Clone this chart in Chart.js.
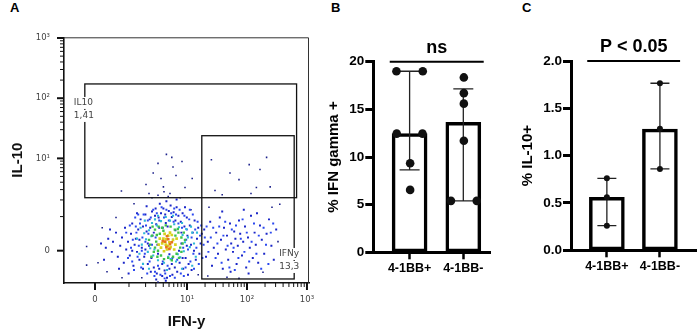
<!DOCTYPE html>
<html lang="en">
<head>
    <meta charset="UTF-8">
    <title>IFN-y / IL-10</title>
    <script src="https://cdn.jsdelivr.net/npm/chart.js"></script>
    <style>
        body { margin: 0; width: 700px; height: 336px; background: #fff; position: relative; overflow: hidden;
               font-family: 'Liberation Sans', Arial, sans-serif; }
        canvas { position: absolute; top: 0; }
        .panel { position: absolute; top: 0; font-weight: bold; font-size: 13px; line-height: 15px; }
    </style>
</head>
<body>
    <div class="panel" style="left:10px">A</div>
    <div class="panel" style="left:331px">B</div>
    <div class="panel" style="left:522px">C</div>

    <canvas id="flowChart" width="320" height="336" style="left:0"></canvas>
    <canvas id="ifnChart" width="195" height="336" style="left:300px"></canvas>
    <canvas id="il10Chart" width="205" height="336" style="left:495px"></canvas>

    <script>
        // ---- panel A : flow plot, coordinates in display units (1 unit = one decade) ----
        const majorFlowValues = [0, 10, 100, 1000];
        const majorFlowLabels = ['0', '10\u00b9', '10\u00b2', '10\u00b3'];

        const dotsOrange = [[1.17,0.15],[1.22,0.19],[1.19,0.06],[1.25,0.11],[1.13,0.16],[1.28,0.14],[1.20,0.24],
            [1.24,0.03]];
        const dotsYellow = [[1.10,0.05],[1.14,0.20],[1.18,0.10],[1.22,0.25],[1.26,0.06],[1.30,0.18],[1.16,0.28],
            [1.24,0.14],[1.12,0.12],[1.20,0.02],[1.28,0.26],[1.34,0.10],[1.08,0.20],[1.19,0.19],[1.32,0.02],
            [1.06,0.10],[1.15,-0.01],[1.25,0.30],[1.36,0.20],[1.21,0.08]];
        const dotsGreen = [[0.92,0.10],[0.95,0.25],[0.98,-0.02],[1.00,0.35],[1.02,0.15],[1.04,-0.10],[1.06,0.40],
            [1.08,0.28],[1.10,-0.08],[1.12,0.38],[1.15,-0.14],[1.18,0.42],[1.22,-0.12],[1.26,0.40],[1.30,-0.10],
            [1.33,0.35],[1.36,-0.05],[1.39,0.30],[1.42,0.05],[1.44,0.22],[1.46,0.12],[1.40,-0.12],[0.96,0.40],
            [1.48,0.30],[0.94,-0.10],[1.03,0.26],[1.38,0.36],[1.00,0.05],[1.44,-0.02],[1.28,-0.16],[1.14,0.33],
            [1.34,0.25],[1.05,0.00],[0.90,0.18],[1.50,0.18]];
        const dotsCyan = [[0.85,0.19],[0.90,0.34],[0.92,0.04],[0.95,0.46],[0.97,-0.08],[1.00,0.52],[1.05,-0.16],
            [1.10,0.49],[1.18,0.56],[1.25,0.50],[1.32,0.44],[1.40,0.39],[1.46,0.26],[1.50,0.14],[1.48,-0.01],
            [1.42,-0.11],[1.35,-0.18],[1.26,-0.14],[1.15,-0.20],[0.88,-0.02],[1.55,0.22],[0.82,0.29],[1.58,0.06],
            [1.45,0.46],[0.94,0.24],[1.03,0.42],[1.38,-0.06],[0.99,0.02],[1.52,0.36],[1.22,-0.10],[0.78,0.10],
            [1.62,0.30],[0.70,0.20],[0.74,-0.05],[0.76,0.38],[0.80,-0.22],[0.83,0.50],[1.60,0.40],[1.65,0.12],
            [1.68,-0.10],[1.62,-0.25],[1.05,0.58],[1.30,0.58],[0.90,-0.30],[1.20,-0.32],[1.45,-0.30],[1.70,0.30]];
        const dotsBlue = [[0.52,0.30],[0.55,-0.12],[0.58,0.42],[0.60,0.05],[0.63,0.18],[0.65,-0.32],[0.67,0.55],
            [0.69,0.30],[0.71,-0.10],[0.73,0.08],[0.75,0.45],[0.77,-0.28],[0.79,0.22],[0.81,0.60],[0.83,-0.05],
            [0.85,0.42],[0.87,-0.38],[0.89,0.28],[0.91,-0.18],[0.93,0.55],[0.95,0.10],[0.97,0.68],[0.99,-0.42],
            [1.01,0.22],[1.03,0.62],[1.05,-0.25],[1.07,0.50],[1.09,-0.40],[1.11,0.72],[1.13,-0.18],[1.15,0.55],
            [1.17,-0.38],[1.19,0.68],[1.21,-0.25],[1.23,0.50],[1.25,-0.42],[1.27,0.62],[1.29,-0.12],[1.31,0.48],
            [1.33,-0.45],[1.35,0.60],[1.37,-0.15],[1.39,0.45],[1.41,0.68],[1.43,-0.38],[1.45,0.38],[1.47,0.05],
            [1.49,0.58],[1.51,-0.28],[1.53,0.35],[1.55,0.02],[1.57,0.52],[1.59,-0.18],[1.61,0.22],[1.63,0.60],
            [1.65,-0.30],[1.67,0.35],[1.69,0.05],[1.71,0.48],[1.73,-0.22],[1.75,0.25],[1.77,0.42],[1.79,-0.12],
            [1.81,0.10],[1.83,0.22],[1.86,0.40],[1.89,-0.02],[0.62,-0.18],[0.68,0.40],[0.72,0.60],[0.88,0.50],
            [1.00,-0.35],[1.16,-0.46],[1.32,0.70],[1.48,-0.42],[1.58,0.68],[0.78,0.00],[0.84,0.15],[1.52,0.18],
            [1.64,-0.05],
            // right lobe
            [1.93,0.22],[1.97,0.38],[2.01,-0.12],[2.04,0.12],[2.07,0.40],[2.11,-0.20],[2.14,0.25],[2.17,0.48],
            [2.21,0.08],[2.24,-0.28],[2.28,0.35],[2.31,0.05],[2.35,0.42],[2.39,-0.12],[2.43,0.20],[2.46,0.52],
            [2.49,-0.02],[2.53,0.30],[2.57,-0.18],[2.61,0.15],[2.65,0.45],[2.69,-0.05],[2.73,0.25],[2.77,-0.30],
            [2.81,0.38],[2.85,0.10],[2.89,-0.22],[2.93,0.30],[2.97,0.45],[2.33,-0.32]];
        const dotsDeepBlue = [[0.10,0.12],[0.18,0.05],[0.22,0.20],[0.28,-0.02],[0.30,0.15],[0.35,0.30],[0.38,-0.10],
            [0.42,0.08],[0.45,0.22],[0.48,-0.20],[0.50,0.38],[0.52,0.02],[0.55,0.15],[0.58,-0.08],[0.60,0.28],
            [0.62,0.45],[0.64,-0.25],[0.66,0.10],[0.68,0.20],[0.70,-0.02],[0.72,0.35],[0.74,-0.15],[0.76,0.52],
            [0.78,0.05],[0.80,-0.30],[0.80,0.40],[0.82,-0.10],[0.84,0.60],[0.86,0.32],[0.88,-0.22],[0.90,0.08],
            [0.91,0.52],[0.93,-0.35],[0.95,0.65],[0.96,0.25],[0.98,-0.28],[1.00,0.58],[1.01,0.70],[1.03,-0.38],
            [1.04,0.10],[1.06,0.55],[1.07,-0.30],[1.08,0.78],[1.10,0.62],[1.12,-0.42],[1.13,0.38],[1.14,0.70],
            [1.16,-0.33],[1.17,0.60],[1.19,0.82],[1.20,-0.45],[1.21,0.40],[1.23,0.66],[1.24,-0.30],[1.26,0.75],
            [1.28,0.56],[1.29,-0.40],[1.30,0.18],[1.31,0.64],[1.33,-0.28],[1.34,0.50],[1.36,0.72],[1.37,-0.35],
            [1.39,0.58],[1.41,-0.20],[1.43,0.48],[1.44,0.12],[1.46,0.62],[1.47,-0.30],[1.49,0.40],[1.51,-0.12],
            [1.53,0.55],[1.54,0.25],[1.56,-0.22],[1.58,0.42],[1.60,0.10],[1.61,-0.32],[1.63,0.30],[1.65,0.00],
            [1.66,0.50],[1.68,-0.15],[1.70,0.20],[1.72,0.38],[1.74,-0.05],[1.76,0.12],[1.78,0.28],[0.40,-0.30],
            [0.25,0.35],[0.56,-0.38],[0.70,0.62],[0.86,0.74],[1.02,-0.48],[1.18,-0.50],[1.36,0.85],[1.50,0.72],
            [0.15,-0.15],[0.62,0.00],[0.74,0.18],[0.92,0.38],[1.55,-0.40],[0.88,0.12],[0.94,-0.12],[1.02,0.44],
            [1.07,0.38],[1.12,-0.22],[1.28,-0.22],[1.34,0.34],[1.44,0.30],[1.40,0.00],[0.98,0.30],[1.05,-0.05],
            [0.84,0.02],[1.46,-0.12],[1.53,0.08],[1.18,0.46],[1.24,-0.06],
            // right lobe
            [1.82,0.35],[1.85,-0.10],[1.88,0.15],[1.92,0.48],[1.95,-0.25],[1.98,0.05],[2.02,0.30],[2.05,-0.05],
            [2.08,0.55],[2.10,0.18],[2.13,-0.30],[2.15,0.38],[2.18,0.02],[2.20,0.25],[2.22,-0.15],[2.25,0.45],
            [2.27,0.12],[2.30,-0.02],[2.32,0.32],[2.34,0.20],[2.36,-0.22],[2.38,0.08],[2.40,0.50],[2.42,0.28],
            [2.45,-0.08],[2.47,0.15],[2.50,0.40],[2.52,-0.28],[2.55,0.22],[2.58,0.05],[2.60,0.58],[2.63,-0.12],
            [2.66,0.30],[2.68,0.10],[2.72,-0.20],[2.75,0.42],[2.78,0.18],[2.82,-0.05],[2.86,0.28],[2.90,0.52],
            [2.94,0.08],[2.98,-0.15],[3.02,0.35],[2.12,0.65],[2.48,0.68],[2.70,0.62],[2.26,-0.35],[2.56,-0.38]];
        const dotsNavy = [[-0.14,0.07],[-0.14,-0.24],[0.05,-0.20],[0.12,0.38],[0.20,-0.35],[0.35,0.55],
            [0.45,-0.45],[0.65,0.78],[0.78,-0.45],[0.95,0.88],[1.05,-0.52],[1.25,0.95],[1.42,0.88],[1.60,0.68],
            [1.72,-0.40],[1.90,0.72],[1.88,-0.42],[2.95,0.72],[3.08,0.77],[3.05,0.15],
            [1.19,1.60],[0.97,1.29],[1.30,1.39],[0.44,0.99],[1.94,1.51],[2.25,1.29],[2.57,1.43],[2.86,1.55],
            [2.69,1.05],[2.92,1.06],[2.00,1.00],[1.50,1.05],[1.14,1.06],[1.10,1.20],[1.35,1.25],[1.45,1.48],
            [1.05,1.45],[2.40,1.18],[2.75,1.35],[1.62,1.20],[0.85,1.10],[1.28,1.55],[1.05,0.92],[1.15,0.98],
            [1.22,0.90],[2.12,0.93],[2.60,0.95],[0.90,0.95],[2.20,-0.44],[2.80,-0.36],[2.40,-0.46]];

        // gates: name, percentage, bounds in display units [x0, x1, y0, y1]
        const gateNames = ['IL10', 'IFNy'];
        const gatePercents = ['1,41', '13,3'];
        const gateBounds = [[-0.17, 3.36, 0.88, 2.77], [1.78, 3.32, -0.47, 1.91]];

        // ---- panel B / C ----
        const groups = ['4-1BB+', '4-1BB-'];
        const ifnMedian = [12.45, 13.65];
        const ifnPoints = [[19.0, 19.0, 12.45, 12.45, 9.35, 6.55], [18.35, 16.7, 15.6, 11.7, 5.4, 5.4]];
        const ifnJitter = [[-0.245, 0.245, -0.24, 0.24, 0.01, 0.01], [0.01, 0.01, 0.01, 0.01, -0.23, 0.25]];
        const ifnErrLow = [8.65, 5.4];
        const ifnErrHigh = [19.0, 17.15];
        const il10Median = [0.56, 1.28];
        const il10Points = [[0.76, 0.56, 0.26], [1.765, 1.285, 0.86]];
        const il10Jitter = [[0, 0, 0], [0, 0, 0]];
        const il10ErrLow = [0.26, 0.86];
        const il10ErrHigh = [0.76, 1.765];

        const boldFont = 'Liberation Sans, Arial, sans-serif';

        // biexponential-like position of a flow value, in decades
        function biex(v) { return Math.asinh(v / 0.586) / Math.LN10; }

        const flowTickValues = [0];
        [1, 10, 100].forEach(d => {
            [1, 2, 3, 4, 5, 6, 7, 8, 9].forEach(k => flowTickValues.push(k * d));
        });
        flowTickValues.push(1000);

        const flowPlugin = {
            id: 'flowExtras',
            afterDraw(chart) {
                const ctx = chart.ctx, a = chart.chartArea;
                const xs = chart.scales.x, ys = chart.scales.y;
                ctx.save();
                // top / right frame
                ctx.strokeStyle = '#333'; ctx.lineWidth = 1;
                ctx.beginPath();
                ctx.moveTo(a.left, a.top + 0.5); ctx.lineTo(a.right - 0.5, a.top + 0.5); ctx.lineTo(a.right - 0.5, a.bottom);
                ctx.stroke();
                // axis ticks, major longer
                ctx.strokeStyle = '#111';
                xs.ticks.forEach(t => {
                    const px = xs.getPixelForValue(t.value);
                    ctx.lineWidth = t.major ? 2 : 1;
                    ctx.beginPath(); ctx.moveTo(px, a.bottom); ctx.lineTo(px, a.bottom + (t.major ? 7 : 4)); ctx.stroke();
                });
                ys.ticks.forEach(t => {
                    const py = ys.getPixelForValue(t.value);
                    ctx.lineWidth = t.major ? 2 : 1;
                    ctx.beginPath(); ctx.moveTo(a.left, py); ctx.lineTo(a.left - (t.major ? 7 : 4), py); ctx.stroke();
                });
                // gates
                ctx.strokeStyle = '#111'; ctx.lineWidth = 1.3;
                gateBounds.forEach(g => {
                    const x0 = xs.getPixelForValue(g[0]), x1 = xs.getPixelForValue(g[1]);
                    const y0 = ys.getPixelForValue(g[2]), y1 = ys.getPixelForValue(g[3]);
                    ctx.strokeRect(x0, y1, x1 - x0, y0 - y1);
                });
                ctx.font = '9px "DejaVu Sans", sans-serif';
                ctx.textBaseline = 'middle';
                gateBounds.forEach((g, i) => {
                    let lx, ly;
                    if (i === 0) { lx = xs.getPixelForValue(g[0]) - 11; ly = ys.getPixelForValue(g[3]) + 19; }
                    else { lx = xs.getPixelForValue(g[1]) - 15; ly = ys.getPixelForValue(g[2]) - 25; }
                    [gateNames[i], gatePercents[i]].forEach((s, j) => {
                        const w = ctx.measureText(s).width;
                        ctx.fillStyle = '#fff';
                        ctx.fillRect(lx - 1, ly + j * 13 - 6, w + 2, 12);
                        ctx.fillStyle = '#444';
                        ctx.fillText(s, lx, ly + j * 13);
                    });
                });
                ctx.restore();
            }
        };

        function dotSet(pts, color, r) {
            return {
                data: pts.map(p => ({ x: p[0], y: p[1] })),
                backgroundColor: color,
                borderWidth: 0,
                pointStyle: 'rect',
                pointRadius: r
            };
        }

        function flowAxis(size, title, pos) {
            return {
                type: 'linear',
                afterBuildTicks: s => {
                    s.ticks = flowTickValues.map(v => ({ value: biex(v), major: majorFlowValues.includes(v) }));
                },
                ticks: {
                    autoSkip: false, maxRotation: 0,
                    padding: pos === 'x' ? 2 : 4,
                    color: '#444',
                    font: { family: '"DejaVu Sans", sans-serif', size: 8.5 },
                    callback: (v, i) => {
                        const k = majorFlowValues.indexOf(flowTickValues[i]);
                        return k >= 0 ? majorFlowLabels[k] : '';
                    }
                },
                // invisible tick marks only reserve room; the real ticks are drawn by flowPlugin
                grid: { display: true, drawOnChartArea: false, tickLength: 10, tickColor: 'rgba(0,0,0,0)' },
                border: { display: true, color: '#111', width: 1.6 },
                title: {
                    display: true, text: title, color: '#111',
                    font: { family: boldFont, size: 15, weight: 'bold' },
                    padding: pos === 'x' ? { top: 0, bottom: 5 } : { top: 9, bottom: 0 }
                },
                afterFit: s => { if (pos === 'x') s.height = size; else s.width = size; }
            };
        }

        const flowX = flowAxis(53, 'IFN-y', 'x');
        flowX.min = -0.517; flowX.max = 3.567;
        const flowY = flowAxis(64, 'IL-10', 'y');
        flowY.min = -0.537; flowY.max = 3.545;

        new Chart(document.getElementById('flowChart'), {
            type: 'scatter',
            data: {
                datasets: [
                    dotSet(dotsOrange, '#e8741c', 1.9),
                    dotSet(dotsYellow, '#d6d21e', 1.9),
                    dotSet(dotsGreen, '#3cc24a', 1.7),
                    dotSet(dotsCyan, '#2fb8d8', 1.5),
                    dotSet(dotsBlue, '#2a48f0', 1.4),
                    dotSet(dotsDeepBlue, '#1a26c8', 1.4),
                    dotSet(dotsNavy, '#1a1f8a', 1.1)
                ]
            },
            options: {
                responsive: false,
                animation: false,
                layout: { padding: { left: 0, top: 37.3, right: 11, bottom: 0 } },
                plugins: { legend: { display: false }, tooltip: { enabled: false } },
                scales: { x: flowX, y: flowY }
            },
            plugins: [flowPlugin]
        });

        // bar panels with median, range bars and individual points
        function barPanel(canvasId, cfg) {
            const pointData = [];
            cfg.points.forEach((vals, i) => vals.forEach((v, j) => pointData.push({ x: i + cfg.jitter[i][j], y: v })));

            const extras = {
                id: 'barExtras',
                beforeDatasetDraw(chart, args) {
                    if (args.index !== 1) return;
                    const ctx = chart.ctx, xs = chart.scales.x, ys = chart.scales.y;
                    ctx.save();
                    ctx.strokeStyle = '#222'; ctx.lineWidth = 1.3;
                    groups.forEach((g, i) => {
                        const px = xs.getPixelForValue(i);
                        const lo = ys.getPixelForValue(cfg.low[i]), hi = ys.getPixelForValue(cfg.high[i]);
                        ctx.beginPath();
                        ctx.moveTo(px, lo); ctx.lineTo(px, hi);
                        ctx.moveTo(px - cfg.cap, lo); ctx.lineTo(px + cfg.cap, lo);
                        ctx.moveTo(px - cfg.cap, hi); ctx.lineTo(px + cfg.cap, hi);
                        ctx.stroke();
                    });
                    ctx.restore();
                },
                afterDraw(chart) {
                    const ctx = chart.ctx, xs = chart.scales.x, ys = chart.scales.y;
                    const y = ys.getPixelForValue(cfg.yMax);
                    const x0 = xs.getPixelForValue(-0.37), x1 = xs.getPixelForValue(1.38);
                    ctx.save();
                    ctx.strokeStyle = '#000'; ctx.lineWidth = 2;
                    ctx.beginPath(); ctx.moveTo(x0, y); ctx.lineTo(x1, y); ctx.stroke();
                    ctx.fillStyle = '#000';
                    ctx.font = 'bold 18px ' + boldFont;
                    ctx.textAlign = 'center'; ctx.textBaseline = 'alphabetic';
                    ctx.fillText(cfg.sig, (x0 + x1) / 2, y - 9);
                    ctx.restore();
                }
            };

            new Chart(document.getElementById(canvasId), {
                type: 'bar',
                data: {
                    datasets: [{
                        type: 'bar',
                        data: groups.map((g, i) => ({ x: i, y: cfg.bars[i] })),
                        backgroundColor: '#fff',
                        borderColor: '#000',
                        borderWidth: 3.5,
                        borderSkipped: false,
                        barThickness: 35,
                        order: 2
                    }, {
                        type: 'scatter',
                        data: pointData,
                        backgroundColor: '#111',
                        borderWidth: 0,
                        pointRadius: cfg.dotR,
                        order: 0
                    }]
                },
                options: {
                    responsive: false,
                    animation: false,
                    layout: { padding: { left: 0, top: cfg.top, right: cfg.right, bottom: 0 } },
                    plugins: { legend: { display: false }, tooltip: { enabled: false } },
                    scales: {
                        x: {
                            type: 'linear', min: cfg.xMin, max: cfg.xMax, offset: false,
                            afterBuildTicks: s => { s.ticks = groups.map((g, i) => ({ value: i })); },
                            ticks: {
                                autoSkip: false, maxRotation: 0, padding: 2, color: '#000',
                                font: { family: boldFont, size: 12.5, weight: 'bold' },
                                callback: (v, i) => groups[i]
                            },
                            grid: { offset: false, drawOnChartArea: false, tickLength: 7, tickWidth: 2.5, tickColor: '#000' },
                            border: { color: '#000', width: 3 },
                            afterFit: s => { s.height = cfg.xAxisH; }
                        },
                        y: {
                            min: 0, max: cfg.yMax,
                            ticks: {
                                stepSize: cfg.step, padding: 1, color: '#000',
                                font: { family: boldFont, size: 13.5, weight: 'bold' },
                                callback: v => v.toFixed(cfg.dec)
                            },
                            grid: { drawOnChartArea: false, tickLength: 8, tickWidth: 3, tickColor: '#000' },
                            border: { color: '#000', width: 3 },
                            title: {
                                display: true, text: cfg.title, color: '#000',
                                font: { family: boldFont, size: 15, weight: 'bold' },
                                padding: { top: cfg.titlePad, bottom: 0 }
                            },
                            afterFit: s => { s.width = cfg.left; }
                        }
                    }
                },
                plugins: [extras]
            });
        }

        barPanel('ifnChart', {
            bars: ifnMedian, points: ifnPoints, jitter: ifnJitter, low: ifnErrLow, high: ifnErrHigh,
            yMax: 20, step: 5, dec: 0, title: '% IFN gamma +', sig: 'ns', dotR: 4.3, cap: 10,
            xMin: -0.676, xMax: 1.51, left: 73.3, top: 61.7, right: 3, xAxisH: 83.7, titlePad: 24.5
        });

        barPanel('il10Chart', {
            bars: il10Median, points: il10Points, jitter: il10Jitter, low: il10ErrLow, high: il10ErrHigh,
            yMax: 2, step: 0.5, dec: 1, title: '% IL-10+', sig: 'P < 0.05', dotR: 3, cap: 9.5,
            xMin: -0.676, xMax: 1.68, left: 76, top: 61, right: 0, xAxisH: 85.7, titlePad: 23.5
        });
    </script>
</body>
</html>
